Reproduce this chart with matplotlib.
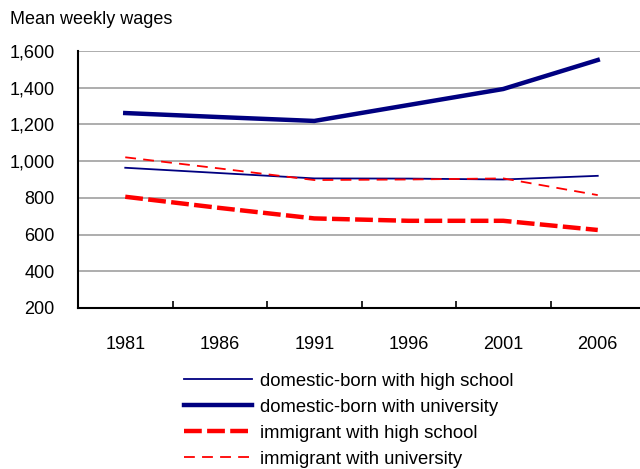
import matplotlib.pyplot as plt
import numpy as np

plt.rcParams['font.family'] = ['Liberation Sans', 'DejaVu Sans']

# census years and mean weekly wages
years = ['1981', '1986', '1991', '1996', '2001', '2006']
dom_hs = [964, 935, 906, 905, 900, 920]
dom_univ = [1262, 1240, 1219, 1306, 1393, 1551]
imm_hs = [806, 745, 688, 675, 675, 625]
imm_univ = [1021, 960, 897, 900, 906, 815]

navy = '#000080'
red = '#ff0000'

fig = plt.figure(figsize=(6.4, 4.69), dpi=100)
ax = fig.add_axes([78 / 640, 1 - 308 / 469, 567 / 640, 257 / 469])

x = np.arange(len(years))
ax.plot(x, dom_hs, color=navy, lw=1.3, label='domestic-born with high school')
ax.plot(x, dom_univ, color=navy, lw=3.2, label='domestic-born with university')
ax.plot(x, imm_hs, color=red, lw=3.2, dashes=(4, 1.2), label='immigrant with high school')
ax.plot(x, imm_univ, color=red, lw=1.3, dashes=(6, 4), label='immigrant with university')

ax.set_xlim(-0.5, len(years) - 0.5)
ax.set_ylim(200, 1600)
ax.set_yticks(range(200, 1601, 200))
ax.set_yticklabels([f'{v:,}' for v in range(200, 1601, 200)], fontsize=13)
ax.set_xticks(x)
ax.set_xticklabels(years, fontsize=13)
ax.set_xticks(np.arange(0.5, len(years) - 0.5), minor=True)
ax.tick_params(axis='x', which='major', length=0, pad=20)
ax.tick_params(axis='x', which='minor', direction='in', length=5, width=1.2)
ax.tick_params(axis='y', length=0, pad=17)

ax.grid(axis='y', color='#a0a0a0', lw=1.2)
ax.set_axisbelow(True)
for s in ['top', 'right']:
    ax.spines[s].set_visible(False)
for s in ['left', 'bottom']:
    ax.spines[s].set_linewidth(1.5)
    ax.spines[s].set_color('black')

fig.text(10 / 640, 1 - 19 / 469, 'Mean weekly wages', fontsize=13, va='center', ha='left')

fig.legend(loc='upper left', bbox_to_anchor=(167 / 640, 1 - 356 / 469), frameon=False,
           fontsize=13.3, handlelength=3.7, handletextpad=0.43, labelspacing=0.49)

fig.savefig('out.png', dpi=100)
